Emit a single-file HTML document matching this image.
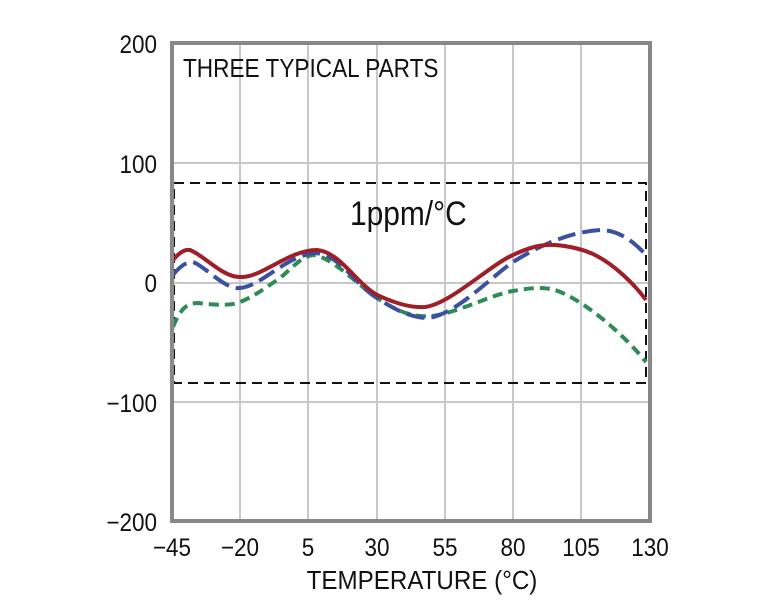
<!DOCTYPE html>
<html><head><meta charset="utf-8"><style>
html,body{margin:0;padding:0;background:#fff;}
svg{display:block;}
text{font-family:"Liberation Sans",sans-serif;fill:#111;}
</style></head><body>
<svg width="761" height="606" viewBox="0 0 761 606">
<g stroke="#c8c8c8" stroke-width="2">
<line x1="240" y1="43" x2="240" y2="521"/><line x1="308" y1="43" x2="308" y2="521"/>
<line x1="377" y1="43" x2="377" y2="521"/><line x1="445" y1="43" x2="445" y2="521"/>
<line x1="513" y1="43" x2="513" y2="521"/><line x1="581" y1="43" x2="581" y2="521"/>
<line x1="172" y1="163" x2="650" y2="163"/><line x1="172" y1="283" x2="650" y2="283"/>
<line x1="172" y1="402" x2="650" y2="402"/>
</g>
<rect x="174" y="183" width="472" height="200" fill="none" stroke="#111" stroke-width="2" stroke-dasharray="10,6"/>
<path d="M173,327 C180,310 186,303 198,303 C215,305 232,306 240,302 C255,296 265,288 280,278 C292,268 300,258 312,255 C330,256 350,278 377,298 C395,310 412,318 432,316 C460,312 490,295 513,291 C525,289 540,286 555,290 C580,298 620,330 646,362" fill="none" stroke="#2e8b57" stroke-width="4" stroke-dasharray="10,6"/>
<path d="M173,275 C180,266 186,262 193,262 C205,266 225,290 240,288 C262,286 285,256 315,253 C340,254 355,285 377,298 C395,310 412,318 428,318 C455,315 490,278 513,262 C540,245 570,232 600,230 C620,230 635,243 646,255" fill="none" stroke="#3b50a0" stroke-width="4" stroke-dasharray="18,7"/>
<path d="M173,260 C180,252 185,249 190,250 C205,256 222,277 240,277 C262,278 288,250 317,250 C340,252 355,282 377,295 C395,303 410,308 425,307 C450,304 490,265 513,255 C530,247 542,244 555,245 C570,246 585,250 595,255 C615,265 635,285 646,300" fill="none" stroke="#a01e28" stroke-width="4"/>
<rect x="172" y="43" width="478" height="478" fill="none" stroke="#888" stroke-width="4"/>
<g font-size="25" text-anchor="end" transform="translate(157,0) scale(0.9,1) translate(-157,0)">
<text x="157" y="53">200</text><text x="157" y="173">100</text>
<text x="157" y="292">0</text><text x="157" y="412">−100</text><text x="157" y="531">−200</text>
</g>
<g font-size="25" text-anchor="middle">
<text x="172" y="556" transform="translate(172,0) scale(0.9,1) translate(-172,0)">−45</text>
<text x="240" y="556" transform="translate(240,0) scale(0.9,1) translate(-240,0)">−20</text>
<text x="308" y="556" transform="translate(308,0) scale(0.9,1) translate(-308,0)">5</text>
<text x="377" y="556" transform="translate(377,0) scale(0.9,1) translate(-377,0)">30</text>
<text x="445" y="556" transform="translate(445,0) scale(0.9,1) translate(-445,0)">55</text>
<text x="513" y="556" transform="translate(513,0) scale(0.9,1) translate(-513,0)">80</text>
<text x="581" y="556" transform="translate(581,0) scale(0.9,1) translate(-581,0)">105</text>
<text x="650" y="556" transform="translate(650,0) scale(0.9,1) translate(-650,0)">130</text>
<text x="422" y="589" font-size="26" transform="translate(422,0) scale(0.93,1) translate(-422,0)">TEMPERATURE (°C)</text>
</g>
<text x="183" y="77" font-size="26" transform="translate(183,0) scale(0.87,1) translate(-183,0)">THREE TYPICAL PARTS</text>
<text x="350" y="225" font-size="34" transform="translate(350,0) scale(0.88,1) translate(-350,0)">1ppm/°C</text>
</svg>
</body></html>
